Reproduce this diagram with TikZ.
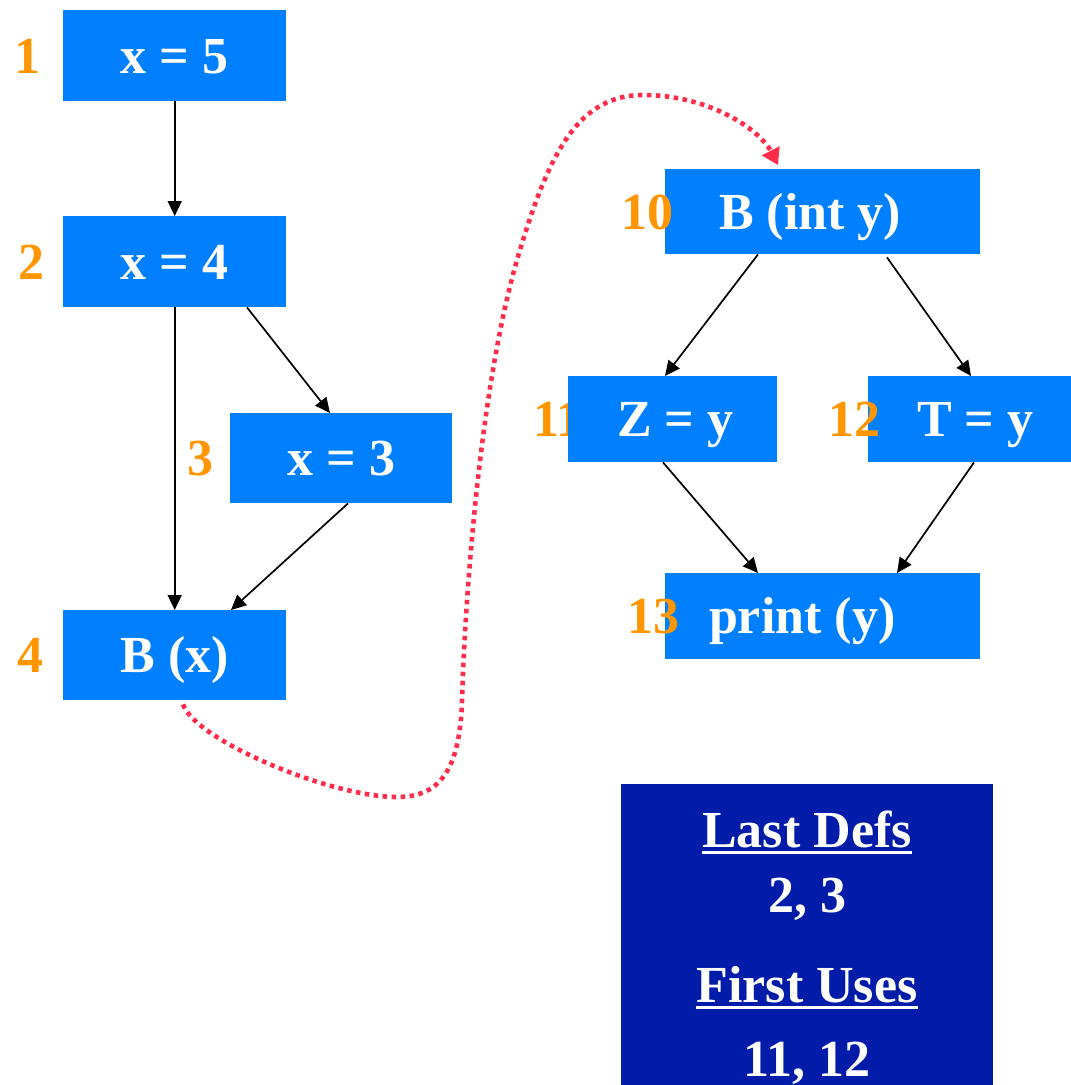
\documentclass[tikz,border=0pt]{standalone}
\usepackage{fontspec}
\setmainfont{Liberation Serif}
\usetikzlibrary{arrows.meta}
\definecolor{boxblue}{RGB}{0,128,255}
\definecolor{darkbox}{RGB}{2,28,170}
\definecolor{numorange}{RGB}{255,150,0}
\definecolor{flowred}{RGB}{255,45,75}
\begin{document}
\begin{tikzpicture}[x=1pt,y=-1pt,
  blk/.style={fill=boxblue, draw=none, inner sep=0pt, text=white,
    font=\fontsize{52}{60}\selectfont\bfseries, text height=35pt, text depth=0pt,
    anchor=north west},
  num/.style={text=numorange, inner sep=0pt,
    font=\fontsize{52}{60}\selectfont\bfseries, text height=35pt, text depth=0pt},
  infotxt/.style={text=white, inner sep=0pt, anchor=base,
    font=\fontsize{52}{60}\selectfont\bfseries},
  edge/.style={-{Triangle[length=15pt,width=14pt]}, line width=1.7pt, black},
  uline/.style={white, line width=3pt},
  flow/.style={flowred, line width=4.6pt, dash pattern=on 4.5pt off 4.5pt,
    -{Triangle[length=16pt,width=19pt]}}
]
\useasboundingbox (0,0) rectangle (1071,1085);

% left column boxes
\node[blk, minimum width=223pt, minimum height=91pt] (b1) at (63,10) {x = 5};
\node[blk, minimum width=223pt, minimum height=91pt] (b2) at (63,216) {x = 4};
\node[blk, minimum width=222pt, minimum height=90pt] (b3) at (230,413) {x = 3};
\node[blk, minimum width=223pt, minimum height=90pt] (b4) at (63,610) {B (x)};

\node[num] (n1) at (28,55.5) {1};
\node[num] (n2) at (31,261.5) {2};
\node[num] (n3) at (200,458) {3};
\node[num] (n4) at (30,655) {4};

% right graph
\node[num] (n11) at (558,419) {11};
\node[blk, minimum width=315pt, minimum height=85pt] (b10) at (665,169) {B (int y)\hspace*{25pt}};
\node[blk, minimum width=209pt, minimum height=86pt] (b11) at (568,376) {\hspace*{5pt}Z = y};
\node[blk, minimum width=203pt, minimum height=86pt] (b12) at (868,376) {\hspace*{11pt}T = y};
\node[blk, minimum width=315pt, minimum height=86pt] (b13) at (665,573) {print (y)\hspace*{41pt}};

\node[num] (n10) at (647.5,211.5) {10};
\node[num] (n12) at (854,419) {12};
\node[num] (n13) at (653,616) {13};

% edges
\draw[edge] (b1.south) -- (b2.north);
\draw[edge] (b2.south) -- (b4.north);
\draw[edge] ([xshift=184pt]b2.south west) -- ([xshift=100pt]b3.north west);
\draw[edge] ([xshift=118pt]b3.south west) -- ([xshift=168pt]b4.north west);
\draw[edge] ([xshift=93pt]b10.south west) -- ([xshift=97pt]b11.north west);
\draw[edge] ([xshift=222pt,yshift=-3pt]b10.south west) -- ([xshift=103pt]b12.north west);
\draw[edge] ([xshift=95pt]b11.south west) -- ([xshift=93pt]b13.north west);
\draw[edge] ([xshift=106pt]b12.south west) -- ([xshift=232pt]b13.north west);

% red dotted flow
\coordinate (rs) at ([xshift=120pt,yshift=-4pt]b4.south west);
\coordinate (re) at ([xshift=113pt,yshift=4pt]b10.north west);
\draw[flow] (rs) .. controls (195,740) and (330,797) .. (397,797)
  .. controls (440,797) and (460,770) .. (462,700)
  .. controls (465,600) and (480,380) .. (520,250)
  .. controls (550,150) and (580,95) .. (643,95)
  .. controls (710,95) and (760,130) .. (re);

% info box
\node[fill=darkbox, draw=none, inner sep=0pt, anchor=north west,
  minimum width=372pt, minimum height=301pt] (info) at (621,784) {};
\node[infotxt] (ld) at (807,847) {Last Defs};
\node[infotxt] (ldv) at (807,912) {2, 3};
\node[infotxt] (fu) at (807,1002) {First Uses};
\node[infotxt] (fuv) at (807,1076) {11, 12};
\draw[uline] ([yshift=-5.5pt]ld.base west) -- ([yshift=-5.5pt]ld.base east);
\draw[uline] ([yshift=-5.5pt]fu.base west) -- ([yshift=-5.5pt]fu.base east);
\end{tikzpicture}
\end{document}
